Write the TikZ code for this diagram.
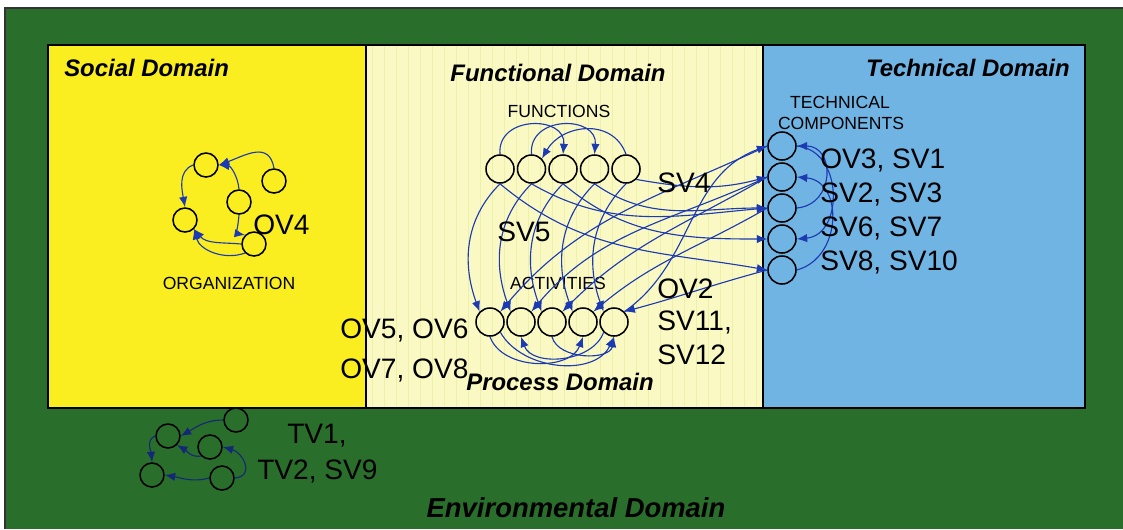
\documentclass[tikz,border=0pt]{standalone}
\usepackage{fontspec}
\setmainfont{Liberation Sans}
\usetikzlibrary{arrows.meta}

\definecolor{envgreen}{RGB}{42,110,44}
\definecolor{socyellow}{RGB}{250,238,32}
\definecolor{funyellow}{RGB}{250,249,196}
\definecolor{funstripe}{RGB}{236,240,170}
\definecolor{techblue}{RGB}{112,180,228}
\definecolor{arrblue}{RGB}{28,58,178}
\definecolor{envarr}{RGB}{20,40,120}

\tikzset{
  comp/.style={circle, draw, line width=1.1pt, minimum size=0.7cm, inner sep=0pt},
  smallcomp/.style={circle, draw, line width=1.1pt, minimum size=0.6cm, inner sep=0pt},
  arr/.style={-{Latex[length=2.6mm,width=2.1mm]}, arrblue, line width=0.8pt},
  envlink/.style={-{Latex[length=2.6mm,width=2.1mm]}, envarr, line width=0.8pt},
  domtitle/.style={font=\fontsize{17}{19}\selectfont\bfseries\itshape, inner sep=0pt},
  viewlbl/.style={font=\fontsize{20}{22}\selectfont, inner sep=0pt, anchor=west},
  grouplbl/.style={font=\fontsize{12.5}{14}\selectfont, inner sep=0pt}
}

\begin{document}
\begin{tikzpicture}[x=0.025cm, y=-0.025cm]
    \useasboundingbox (0, 0) rectangle (1123, 529);

    % domains
    \fill[envgreen] (5, 8) rectangle (1123, 529);
    \draw[black!80, line width=0.8pt] (5, 529) -- (5, 8) -- (1123, 8);
    \fill[socyellow] (48, 45) rectangle (366, 408);
    \fill[funyellow] (366, 45) rectangle (763, 408);
    \foreach \x in {372, 384, ..., 760}
        \draw[funstripe, line width=0.7pt] (\x, 46) -- (\x, 407);
    \fill[techblue] (763, 45) rectangle (1085, 408);
    \draw[black, line width=1.8pt] (48, 45) rectangle (1085, 408);
    \draw[black, line width=1.2pt] (366, 45) -- (366, 408);
    \draw[black, line width=1.2pt] (763, 45) -- (763, 408);

    \node[domtitle, anchor=west] at (64, 68)  (social)  {Social Domain};
    \node[domtitle] at (558, 73)  (functional)  {Functional Domain};
    \node[domtitle, anchor=east] at (1070, 68)  (technical)  {Technical Domain};
    \node[domtitle] at (560, 382)  (process)  {Process Domain};
    \node[domtitle, font=\fontsize{19.5}{22}\selectfont\bfseries\itshape] at (576, 508)  (environmental)  {Environmental Domain};

    % organization
    \node[smallcomp] at (206, 165)  (sA)  {};
    \node[smallcomp] at (274, 181)  (sB)  {};
    \node[smallcomp] at (239, 202)  (sC)  {};
    \node[smallcomp] at (185, 220)  (sD)  {};
    \node[smallcomp] at (254, 244)  (sE)  {};

    \draw[arr]  (sB.north) to[out=100, in=20, looseness=1.3] (sA.east);
    \draw[arr]  (sC.north) to[out=95, in=-5] (sA.east);
    \draw[arr]  (sA.west) to[out=200, in=100] (sD.north);
    \draw[arr]  (sC.south) to[out=-95, in=170] (sE.north west);
    \draw[arr]  (sE.west) to[out=175, in=-50] (sD.south east);
    \draw[arr]  (sE.south west) to[out=-160, in=-75] (sD.south east);

    \node[viewlbl] at (253, 225)  (ov4)  {OV4};
    \node[grouplbl] at (229, 283)  (organization)  {ORGANIZATION};

    % functions
    \node[comp] at (500, 169)  (f1)  {};
    \node[comp] at (531.5, 169)  (f2)  {};
    \node[comp] at (563, 169)  (f3)  {};
    \node[comp] at (594.5, 169)  (f4)  {};
    \node[comp] at (626, 169)  (f5)  {};
    \node[grouplbl] at (559, 111)  (functions)  {FUNCTIONS};

    \draw[arr]  (f1.north) to[out=95, in=85, looseness=1.6] (f3.north);
    \draw[arr]  (f2.north) to[out=95, in=85, looseness=1.6] (f4.north);
    \draw[arr]  (f5.north) to[out=110, in=60, looseness=1.2] (f2.north east);

    % activities
    \node[comp] at (490, 322)  (a1)  {};
    \node[comp] at (521, 322)  (a2)  {};
    \node[comp] at (552, 322)  (a3)  {};
    \node[comp] at (583, 322)  (a4)  {};
    \node[comp] at (614, 322)  (a5)  {};
    \node[grouplbl] at (558, 283)  (activities)  {ACTIVITIES};

    \draw[arr]  (a1.south) to[out=-70, in=-110] (a4.south);
    \draw[arr]  (a1.south east) to[out=-60, in=-115] (a5.south);
    \draw[arr]  (a3.south) to[out=-75, in=-100] (a5.south);
    \draw[arr]  (a5.south west) to[out=-110, in=-70] (a2.south);

    % technical components
    \node[comp] at (782, 146)  (t1)  {};
    \node[comp] at (782, 177)  (t2)  {};
    \node[comp] at (782, 208)  (t3)  {};
    \node[comp] at (782, 239)  (t4)  {};
    \node[comp] at (782, 270)  (t5)  {};
    \node[grouplbl] at (840, 102)  (technical1)  {TECHNICAL};
    \node[grouplbl] at (841, 123)  (technical2)  {COMPONENTS};

    \draw[arr]  (t3.east) to[out=5, in=0, looseness=1.6] (t1.east);
    \draw[arr]  (t5.east) to[out=15, in=-5, looseness=1.3] (t2.east);
    \draw[arr]  (t1.east) to[out=-5, in=5, looseness=1.3] (t4.east);

    % functions to activities
    \draw[arr]  (f1.south) to[out=-135, in=110] (a1.north west);
    \draw[arr]  (f2.south) to[out=-135, in=110] (a2.north west);
    \draw[arr]  (f3.south) to[out=-135, in=110] (a3.north west);
    \draw[arr]  (f4.south) to[out=-135, in=110] (a4.north west);
    \draw[arr]  (f5.south) to[out=-135, in=110] (a5.north west);

    % functions to technical components
    \draw[arr]  (f5.south east) to[out=-10, in=195] (t2.west);
    \draw[arr]  (f4.south) to[out=-35, in=180] (t3.west);
    \draw[arr]  (f2.south) to[out=-30, in=185] (t3.west);
    \draw[arr]  (f3.south) to[out=-40, in=180] (t4.west);
    \draw[arr]  (f1.south) to[out=-40, in=170] (t5.west);

    % technical components to activities
    \draw[arr]  (a5.north east) to[out=35, in=200] (t1.west);
    \draw[arr]  (t1.west) to[out=205, in=50] (a1.north east);
    \draw[arr]  (t2.west) to[out=205, in=50] (a2.north east);
    \draw[arr]  (t2.west) to[out=210, in=45] (a3.north east);
    \draw[arr]  (t3.west) to[out=210, in=40] (a4.north east);
    \draw[arr]  (t5.west) to[out=195, in=15] (a5.north east);

    % view labels
    \node[viewlbl] at (657, 183)  (sv4)  {SV4};
    \node[viewlbl] at (497, 232)  (sv5)  {SV5};
    \node[viewlbl] at (657, 289)  (ov2)  {OV2};
    \node[viewlbl] at (657, 322)  (sv11)  {SV11,};
    \node[viewlbl] at (657, 355)  (sv12)  {SV12};
    \node[viewlbl] at (340, 330)  (ov56)  {OV5, OV6};
    \node[viewlbl] at (340, 370)  (ov78)  {OV7, OV8};
    \node[viewlbl] at (820, 160)  (ov3)  {OV3, SV1};
    \node[viewlbl] at (820, 194)  (sv23)  {SV2, SV3};
    \node[viewlbl] at (820, 228)  (sv67)  {SV6, SV7};
    \node[viewlbl] at (820, 262)  (sv810)  {SV8, SV10};

    % environment
    \node[smallcomp] at (236, 420)  (eF)  {};
    \node[smallcomp] at (168, 436)  (eG)  {};
    \node[smallcomp] at (210, 447)  (eH)  {};
    \node[smallcomp] at (152, 475)  (eI)  {};
    \node[smallcomp] at (222, 478)  (eJ)  {};

    \draw[envlink]  (eF.west) to[out=180, in=30] (eG.east);
    \draw[envlink]  (eH.south west) to[out=190, in=-30] (eG.south east);
    \draw[envlink]  (eG.west) to[out=200, in=95] (eI.north);
    \draw[envlink]  (eJ.west) to[out=195, in=-10] (eI.east);
    \draw[envlink]  (eJ.east) to[out=5, in=-15, looseness=1.6] (eH.east);

    \node[viewlbl] at (287, 436)  (tv1)  {TV1,};
    \node[viewlbl] at (257, 471)  (tv2)  {TV2, SV9};
  \end{tikzpicture}
\end{document}
